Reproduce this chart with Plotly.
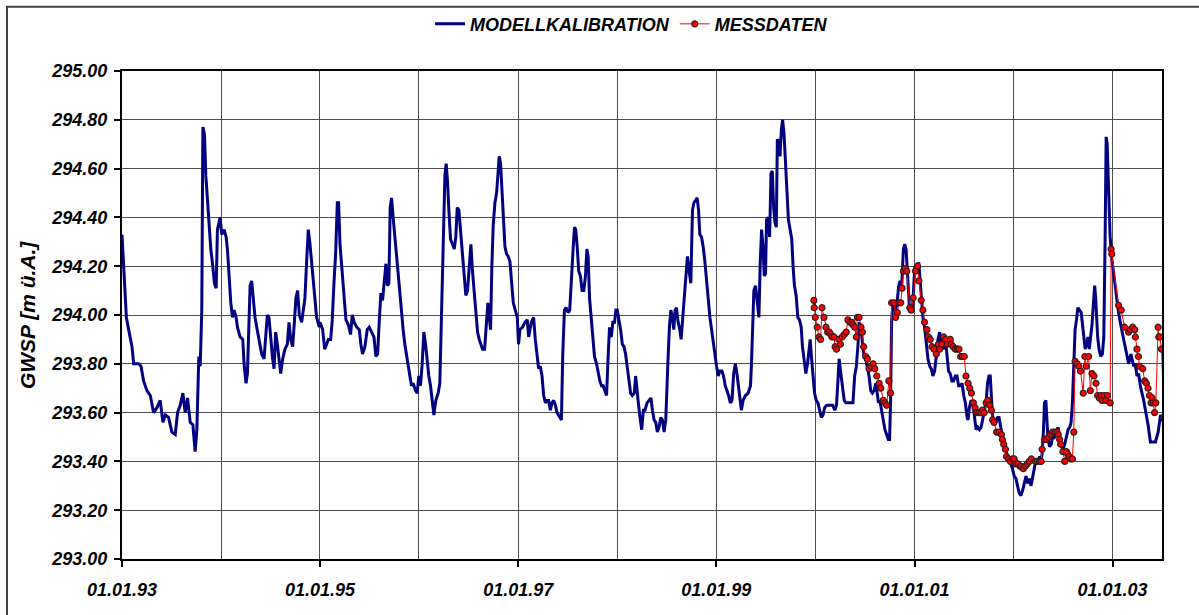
import datetime as dt
import plotly.graph_objects as go

# ---------------- data (decimal years, m ü.A.) ----------------
model_years = [
    1993.000, 1993.024, 1993.044, 1993.067, 1993.101, 1993.118, 1993.168, 1993.192, 1993.218, 1993.252,
    1993.286, 1993.319, 1993.353, 1993.386, 1993.413, 1993.437, 1993.470, 1993.504, 1993.538, 1993.561,
    1993.588, 1993.615, 1993.638, 1993.662, 1993.689, 1993.716, 1993.739, 1993.756, 1993.763, 1993.776,
    1993.790, 1993.806, 1993.817, 1993.833, 1993.847, 1993.864, 1993.880, 1993.897, 1993.917, 1993.934,
    1993.951, 1993.964, 1993.991, 1994.008, 1994.032, 1994.052, 1994.065, 1994.085, 1994.099, 1994.116,
    1994.132, 1994.153, 1994.166, 1994.193, 1994.220, 1994.233, 1994.253, 1994.267, 1994.280, 1994.294,
    1994.310, 1994.327, 1994.344, 1994.361, 1994.378, 1994.394, 1994.411, 1994.435, 1994.452, 1994.468,
    1994.485, 1994.502, 1994.519, 1994.536, 1994.552, 1994.569, 1994.586, 1994.603, 1994.623, 1994.646,
    1994.670, 1994.687, 1994.704, 1994.724, 1994.741, 1994.757, 1994.774, 1994.791, 1994.815, 1994.831,
    1994.848, 1994.865, 1994.882, 1994.899, 1994.915, 1994.932, 1994.949, 1994.966, 1994.993,
    1995.000, 1995.027, 1995.047, 1995.067, 1995.084, 1995.108, 1995.124, 1995.141, 1995.158, 1995.175,
    1995.188, 1995.202, 1995.218, 1995.235, 1995.249, 1995.262, 1995.286, 1995.309, 1995.326, 1995.346,
    1995.370, 1995.397, 1995.413, 1995.430, 1995.454, 1995.477, 1995.497, 1995.521, 1995.545, 1995.565,
    1995.582, 1995.598, 1995.615, 1995.632, 1995.649, 1995.666, 1995.682, 1995.696, 1995.709, 1995.723,
    1995.739, 1995.756, 1995.773, 1995.790, 1995.807, 1995.824, 1995.840, 1995.857, 1995.874, 1995.891,
    1995.908, 1995.924, 1995.941, 1995.965, 1995.982, 1995.998, 1996.015, 1996.032, 1996.049, 1996.066,
    1996.082, 1996.099, 1996.116, 1996.133, 1996.150, 1996.170, 1996.193, 1996.210, 1996.227, 1996.237,
    1996.250, 1996.261, 1996.274, 1996.287, 1996.301, 1996.318, 1996.338, 1996.355, 1996.371, 1996.385,
    1996.402, 1996.418, 1996.439, 1996.455, 1996.472, 1996.489, 1996.506, 1996.523, 1996.539, 1996.556,
    1996.573, 1996.590, 1996.607, 1996.624, 1996.640, 1996.661, 1996.681, 1996.694, 1996.708, 1996.721,
    1996.734, 1996.748, 1996.765, 1996.782, 1996.798, 1996.808, 1996.822, 1996.835, 1996.849, 1996.866,
    1996.882, 1996.899, 1996.916, 1996.933, 1996.950, 1996.970, 1996.990, 1997.003, 1997.017, 1997.044,
    1997.067, 1997.091,
    1997.105, 1997.132, 1997.155, 1997.172, 1997.189, 1997.206, 1997.223, 1997.240, 1997.257, 1997.274,
    1997.291, 1997.307, 1997.324, 1997.341, 1997.358, 1997.375, 1997.392, 1997.416, 1997.436, 1997.449,
    1997.466, 1997.483, 1997.503, 1997.520, 1997.537, 1997.554, 1997.568, 1997.581, 1997.595, 1997.611,
    1997.628, 1997.645, 1997.662, 1997.679, 1997.693, 1997.706, 1997.720, 1997.736, 1997.753, 1997.770,
    1997.791, 1997.807, 1997.824, 1997.841, 1997.858, 1997.875, 1997.892, 1997.909, 1997.922, 1997.939,
    1997.956, 1997.973, 1997.986, 1998.000, 1998.017, 1998.034, 1998.051, 1998.068, 1998.084, 1998.101,
    1998.118, 1998.135, 1998.152, 1998.172, 1998.186, 1998.199, 1998.213, 1998.230, 1998.247, 1998.264,
    1998.280, 1998.301, 1998.321, 1998.341, 1998.355, 1998.372, 1998.389, 1998.405, 1998.422, 1998.439,
    1998.456, 1998.473, 1998.490, 1998.500, 1998.514, 1998.527, 1998.541, 1998.557, 1998.571, 1998.584,
    1998.598, 1998.615, 1998.632, 1998.645, 1998.659, 1998.676, 1998.693, 1998.709, 1998.726, 1998.743,
    1998.760, 1998.774, 1998.791, 1998.807, 1998.821, 1998.834, 1998.851, 1998.868, 1998.885, 1998.902,
    1998.919, 1998.936, 1998.953, 1998.970, 1998.986, 1999.003, 1999.020, 1999.037, 1999.057, 1999.074,
    1999.091, 1999.108, 1999.125, 1999.142, 1999.159, 1999.176, 1999.193, 1999.209,
    1999.220, 1999.237, 1999.254, 1999.271, 1999.295, 1999.322, 1999.346, 1999.356, 1999.366, 1999.380,
    1999.397, 1999.414, 1999.431, 1999.444, 1999.458, 1999.471, 1999.485, 1999.498, 1999.508, 1999.525,
    1999.539, 1999.553, 1999.566, 1999.580, 1999.593, 1999.607, 1999.617, 1999.631, 1999.644, 1999.658,
    1999.671, 1999.685, 1999.698, 1999.712, 1999.729, 1999.746, 1999.763, 1999.776, 1999.790, 1999.807,
    1999.824, 1999.841, 1999.858, 1999.871, 1999.888, 1999.905, 1999.922, 1999.939, 1999.949, 1999.963,
    1999.976, 1999.993, 2000.010, 2000.027, 2000.044, 2000.061, 2000.078, 2000.095, 2000.115, 2000.136,
    2000.156, 2000.176, 2000.197, 2000.214, 2000.227, 2000.241, 2000.258, 2000.275, 2000.292, 2000.308,
    2000.332, 2000.356, 2000.380, 2000.397, 2000.414, 2000.431, 2000.444, 2000.458, 2000.475, 2000.492,
    2000.508, 2000.525, 2000.542, 2000.559, 2000.576, 2000.593, 2000.610, 2000.624, 2000.637, 2000.651,
    2000.668, 2000.685, 2000.702, 2000.719, 2000.736, 2000.749, 2000.759, 2000.769, 2000.783, 2000.797,
    2000.810, 2000.824, 2000.841, 2000.854, 2000.871, 2000.888, 2000.902, 2000.915, 2000.932, 2000.949,
    2000.963, 2000.976, 2000.990, 2001.003, 2001.017, 2001.031, 2001.044, 2001.058, 2001.071, 2001.085,
    2001.102, 2001.119, 2001.136, 2001.153, 2001.169, 2001.186, 2001.203, 2001.220, 2001.237, 2001.254,
    2001.271, 2001.288, 2001.305, 2001.322, 2001.339,
    2001.344, 2001.361, 2001.378, 2001.395, 2001.412, 2001.429, 2001.446, 2001.463, 2001.480, 2001.497,
    2001.514, 2001.531, 2001.541, 2001.554, 2001.571, 2001.588, 2001.605, 2001.622, 2001.639, 2001.656,
    2001.673, 2001.690, 2001.707, 2001.724, 2001.738, 2001.752, 2001.765, 2001.776, 2001.789, 2001.806,
    2001.823, 2001.840, 2001.854, 2001.871, 2001.888, 2001.905, 2001.922, 2001.939, 2001.956, 2001.973,
    2001.990, 2002.007, 2002.024, 2002.041, 2002.058, 2002.075, 2002.092, 2002.109, 2002.126, 2002.143,
    2002.160, 2002.177, 2002.194, 2002.211, 2002.228, 2002.245, 2002.262, 2002.279, 2002.289, 2002.303,
    2002.313, 2002.327, 2002.337, 2002.347, 2002.364, 2002.381, 2002.398, 2002.415, 2002.432, 2002.449,
    2002.466, 2002.483, 2002.500, 2002.517, 2002.534, 2002.551, 2002.568, 2002.582, 2002.595, 2002.609,
    2002.622, 2002.636, 2002.650, 2002.667, 2002.684, 2002.697, 2002.711, 2002.724, 2002.738, 2002.752,
    2002.765, 2002.779, 2002.793, 2002.806, 2002.820, 2002.830, 2002.840, 2002.850, 2002.864, 2002.881,
    2002.898, 2002.912, 2002.925, 2002.936, 2002.946, 2002.959, 2002.976, 2002.993, 2003.020, 2003.044,
    2003.061, 2003.088, 2003.112, 2003.146, 2003.163, 2003.186, 2003.214, 2003.231, 2003.247, 2003.264,
    2003.281, 2003.315, 2003.339, 2003.359, 2003.383, 2003.434, 2003.461, 2003.485, 2003.508, 2003.536,
]
model_values = [
    294.33, 294.13, 293.99, 293.94, 293.87, 293.80, 293.80, 293.79, 293.73, 293.69,
    293.67, 293.60, 293.62, 293.65, 293.56, 293.59, 293.58, 293.52, 293.51, 293.60,
    293.63, 293.68, 293.60, 293.66, 293.56, 293.55, 293.44, 293.53, 293.69, 293.83,
    293.79, 294.02, 294.77, 294.74, 294.57, 294.46, 294.36, 294.27, 294.20, 294.13,
    294.11, 294.35, 294.40, 294.33, 294.35, 294.32, 294.27, 294.14, 294.05, 293.99,
    294.02, 293.99, 293.95, 293.91, 293.90, 293.80, 293.72, 293.76, 293.94, 294.12,
    294.14, 294.05, 293.99, 293.95, 293.91, 293.87, 293.84, 293.82, 293.90, 294.00,
    293.99, 293.90, 293.83, 293.78, 293.93, 293.88, 293.82, 293.76, 293.82, 293.86,
    293.88, 293.97, 293.90, 293.87, 293.97, 294.07, 294.10, 294.00, 293.97, 294.03,
    294.07, 294.22, 294.35, 294.29, 294.22, 294.13, 294.05, 293.99, 293.95,
    293.97, 293.94, 293.86, 293.88, 293.90, 293.90, 293.98, 294.13, 294.25, 294.46,
    294.46, 294.29, 294.20, 294.13, 294.05, 293.98, 293.96, 293.92, 294.00, 293.97,
    293.95, 293.94, 293.88, 293.84, 293.87, 293.94, 293.95, 293.93, 293.91, 293.83,
    293.84, 293.97, 294.09, 294.06, 294.13, 294.21, 294.12, 294.13, 294.44, 294.48,
    294.40, 294.32, 294.24, 294.16, 294.10, 294.01, 293.94, 293.88, 293.83, 293.78,
    293.75, 293.71, 293.72, 293.69, 293.68, 293.75, 293.71, 293.80, 293.93, 293.88,
    293.80, 293.75, 293.71, 293.64, 293.59, 293.65, 293.68, 293.72, 293.97, 294.21,
    294.33, 294.57, 294.62, 294.55, 294.43, 294.31, 294.29, 294.27, 294.32, 294.44,
    294.43, 294.35, 294.27, 294.18, 294.08, 294.10, 294.22, 294.29, 294.18, 294.09,
    293.98, 293.93, 293.90, 293.88, 293.86, 293.86, 293.99, 294.05, 293.99, 293.94,
    294.20, 294.37, 294.46, 294.50, 294.59, 294.65, 294.62, 294.51, 294.39, 294.28,
    294.25, 294.24, 294.22, 294.13, 294.05, 294.02, 293.99, 293.88, 293.94, 293.95,
    293.97, 293.98,
    293.91, 293.97, 293.99, 293.90, 293.83, 293.78, 293.79, 293.75, 293.67, 293.64,
    293.65, 293.65, 293.61, 293.64, 293.65, 293.63, 293.60, 293.58, 293.57, 293.83,
    294.02, 294.03, 294.01, 294.02, 294.18, 294.27, 294.36, 294.35, 294.28, 294.18,
    294.16, 294.10, 294.10, 294.16, 294.27, 294.24, 294.07, 293.99, 293.94, 293.83,
    293.80, 293.76, 293.73, 293.71, 293.71, 293.69, 293.67, 293.84, 293.95, 293.91,
    293.97, 293.97, 294.02, 294.02, 293.98, 293.94, 293.88, 293.87, 293.84, 293.78,
    293.72, 293.68, 293.67, 293.68, 293.75, 293.68, 293.64, 293.58, 293.53, 293.61,
    293.61, 293.64, 293.65, 293.66, 293.61, 293.57, 293.56, 293.52, 293.54, 293.58,
    293.57, 293.52, 293.57, 293.71, 293.83, 293.95, 294.02, 293.99, 293.94, 294.02,
    294.03, 293.97, 293.94, 293.90, 293.97, 294.05, 294.17, 294.24, 294.18, 294.13,
    294.43, 294.46, 294.47, 294.48, 294.43, 294.33, 294.32, 294.28, 294.22, 294.14,
    294.06, 293.99, 293.94, 293.88, 293.83, 293.79, 293.75, 293.77, 293.77, 293.75,
    293.71, 293.69, 293.67, 293.64, 293.65, 293.76, 293.80, 293.76,
    293.72, 293.68, 293.61, 293.65, 293.67, 293.68, 293.71, 293.80, 293.98, 294.10,
    294.12, 294.05, 293.99, 294.21, 294.35, 294.29, 294.16, 294.17, 294.39, 294.40,
    294.32, 294.58, 294.59, 294.44, 294.38, 294.36, 294.72, 294.71, 294.65, 294.76,
    294.80, 294.74, 294.62, 294.51, 294.39, 294.35, 294.31, 294.20, 294.12, 294.08,
    293.99, 293.98, 293.95, 293.87, 293.82, 293.76, 293.80, 293.86, 293.90, 293.82,
    293.75, 293.68, 293.65, 293.64, 293.61, 293.58, 293.59, 293.62, 293.63, 293.63,
    293.63, 293.63, 293.61, 293.63, 293.72, 293.82, 293.76, 293.71, 293.65, 293.64,
    293.64, 293.64, 293.64, 293.75, 293.79, 293.88, 293.97, 293.95, 293.88, 293.83,
    293.82, 293.78, 293.75, 293.69, 293.68, 293.69, 293.72, 293.68, 293.64, 293.65,
    293.61, 293.56, 293.53, 293.51, 293.49, 293.49, 293.65, 293.97, 294.05, 294.03,
    294.02, 294.05, 294.12, 294.14, 294.12, 294.27, 294.29, 294.27, 294.16, 294.03,
    294.03, 294.01, 294.10, 294.20, 294.18, 294.21, 294.21, 294.14, 294.05, 293.99,
    293.95, 293.88, 293.82, 293.79, 293.78, 293.75, 293.77, 293.83, 293.90, 293.93,
    293.88, 293.86, 293.88, 293.86, 293.78,
    293.77, 293.76, 293.73, 293.73, 293.75, 293.75, 293.71, 293.71, 293.72, 293.67,
    293.64, 293.58, 293.57, 293.62, 293.65, 293.64, 293.57, 293.53, 293.54, 293.53,
    293.54, 293.57, 293.61, 293.65, 293.72, 293.75, 293.75, 293.67, 293.58, 293.57,
    293.56, 293.58, 293.58, 293.54, 293.50, 293.47, 293.45, 293.42, 293.41, 293.39,
    293.37, 293.34, 293.33, 293.30, 293.27, 293.26, 293.28, 293.31, 293.34, 293.31,
    293.33, 293.30, 293.34, 293.38, 293.41, 293.39, 293.42, 293.41, 293.43, 293.53,
    293.64, 293.65, 293.58, 293.50, 293.46, 293.47, 293.51, 293.50, 293.51, 293.54,
    293.50, 293.46, 293.45, 293.47, 293.50, 293.53, 293.54, 293.56, 293.64, 293.80,
    293.94, 293.98, 294.03, 294.02, 294.01, 293.96, 293.91, 293.86, 293.88, 293.91,
    293.86, 293.91, 293.96, 294.04, 294.12, 294.07, 293.99, 293.91, 293.86, 293.83,
    293.84, 293.91, 294.30, 294.73, 294.70, 294.53, 294.32, 294.23, 294.14, 294.06,
    294.01, 293.95, 293.90, 293.82, 293.80, 293.84, 293.79, 293.80, 293.75, 293.76,
    293.71, 293.65, 293.60, 293.55, 293.48, 293.48, 293.52, 293.59, 293.57, 293.53,
]

meas_years = [
    1999.986, 1999.990, 2000.000, 2000.020, 2000.037, 2000.054, 2000.068, 2000.088, 2000.108, 2000.125,
    2000.142, 2000.156, 2000.169, 2000.190, 2000.200, 2000.214, 2000.237, 2000.254, 2000.271, 2000.292,
    2000.312, 2000.329, 2000.349, 2000.369, 2000.380, 2000.397, 2000.414, 2000.424, 2000.441, 2000.461,
    2000.475, 2000.488, 2000.508, 2000.525, 2000.542, 2000.563, 2000.583, 2000.600, 2000.620, 2000.644,
    2000.661, 2000.685, 2000.702, 2000.719, 2000.742, 2000.759, 2000.769, 2000.793, 2000.810, 2000.827,
    2000.844, 2000.861, 2000.875, 2000.888, 2000.905, 2000.922, 2000.953, 2000.966, 2000.986, 2001.010,
    2001.031, 2001.044, 2001.068, 2001.085, 2001.102, 2001.125, 2001.142, 2001.159, 2001.176, 2001.197,
    2001.220, 2001.241, 2001.254, 2001.275, 2001.295, 2001.312, 2001.332,
    2001.361, 2001.371, 2001.391, 2001.412, 2001.432, 2001.449, 2001.466, 2001.483, 2001.503, 2001.520,
    2001.541, 2001.558, 2001.575, 2001.595, 2001.612, 2001.629, 2001.650, 2001.670, 2001.687, 2001.704,
    2001.724, 2001.741, 2001.759, 2001.776, 2001.789, 2001.803, 2001.830, 2001.854, 2001.878, 2001.888,
    2001.901, 2001.918, 2001.929, 2001.949, 2001.969, 2001.990, 2002.007, 2002.024, 2002.044, 2002.065,
    2002.078, 2002.099, 2002.119, 2002.139, 2002.160, 2002.180, 2002.221, 2002.241, 2002.262, 2002.279,
    2002.289, 2002.313, 2002.333, 2002.354, 2002.374, 2002.395, 2002.418, 2002.439, 2002.452, 2002.466,
    2002.476, 2002.500, 2002.517, 2002.534, 2002.548, 2002.561, 2002.578, 2002.595, 2002.609, 2002.622,
    2002.643, 2002.660, 2002.677, 2002.704, 2002.721, 2002.735, 2002.759, 2002.776, 2002.793, 2002.813,
    2002.833, 2002.850, 2002.867, 2002.884, 2002.895, 2002.915, 2002.932, 2002.949, 2002.976,
    2002.986, 2002.993, 2003.061, 2003.088, 2003.122, 2003.163, 2003.180, 2003.203, 2003.224, 2003.231,
    2003.247, 2003.262, 2003.272, 2003.305, 2003.325, 2003.342, 2003.359, 2003.373, 2003.390, 2003.400,
    2003.412, 2003.425, 2003.438, 2003.461, 2003.468, 2003.478, 2003.495, 2003.520,
]
meas_values = [
    294.06, 294.03, 293.99, 293.95, 293.91, 293.90, 294.03, 293.99, 293.95, 293.93,
    293.93, 293.92, 293.91, 293.91, 293.87, 293.86, 293.90, 293.88, 293.91, 293.92,
    293.93, 293.98, 293.97, 293.97, 293.96, 293.95, 293.91, 293.99, 293.99, 293.95,
    293.93, 293.87, 293.83, 293.82, 293.78, 293.79, 293.80, 293.78, 293.75, 293.72,
    293.70, 293.65, 293.64, 293.63, 293.73, 293.68, 294.05, 294.05, 293.99, 294.01,
    294.05, 294.05, 294.11, 294.18, 294.19, 294.18, 294.03, 294.02, 294.07, 294.18,
    294.20, 294.14, 294.06, 294.02, 293.97, 293.94, 293.91, 293.90, 293.87, 293.86,
    293.84, 293.88, 293.86, 293.88, 293.91, 293.90, 293.88,
    293.90, 293.88, 293.87, 293.86, 293.86, 293.86, 293.83, 293.83, 293.83, 293.75,
    293.72, 293.70, 293.68, 293.64, 293.62, 293.60, 293.60, 293.60, 293.61, 293.60,
    293.64, 293.65, 293.63, 293.61, 293.57, 293.56, 293.52, 293.52, 293.51, 293.49,
    293.47, 293.45, 293.42, 293.41, 293.40, 293.41, 293.41, 293.39, 293.39, 293.38,
    293.38, 293.37, 293.38, 293.39, 293.40, 293.41, 293.40, 293.40, 293.40, 293.40,
    293.45, 293.49, 293.49, 293.50, 293.51, 293.52, 293.52, 293.52, 293.51, 293.49,
    293.47, 293.44, 293.40, 293.44, 293.43, 293.42, 293.41, 293.41, 293.52, 293.81,
    293.80, 293.79, 293.77, 293.68, 293.83, 293.79, 293.83, 293.69, 293.76, 293.75,
    293.72, 293.67, 293.66, 293.67, 293.65, 293.67, 293.65, 293.67, 293.64,
    294.27, 294.25, 294.04, 294.02, 293.95, 293.93, 293.94, 293.95, 293.94, 293.91,
    293.86, 293.83, 293.79, 293.78, 293.73, 293.72, 293.70, 293.67, 293.64, 293.66,
    293.64, 293.60, 293.64, 293.95, 293.91, 293.91, 293.86, 293.58,
]

y_ticks = [293.0, 293.2, 293.4, 293.6, 293.8, 294.0, 294.2, 294.4, 294.6, 294.8, 295.0]
series_names = ["MODELLKALIBRATION", "MESSDATEN"]
y_title = "GWSP [m ü.A.]"


def to_date(y):
    yr = int(y)
    start = dt.datetime(yr, 1, 1)
    end = dt.datetime(yr + 1, 1, 1)
    return start + (end - start) * (y - yr)


FONT = "Liberation Sans, Arial, sans-serif"

fig = go.Figure()
fig.add_trace(go.Scatter(
    x=[to_date(v) for v in model_years], y=model_values, mode="lines",
    name=series_names[0], line=dict(color="#000080", width=3),
))
fig.add_trace(go.Scatter(
    x=[to_date(v) for v in meas_years], y=meas_values, mode="lines+markers",
    name=series_names[1], line=dict(color="#FF0000", width=1),
    marker=dict(symbol="circle", size=6, color="#FF0000", line=dict(color="#3a1a1a", width=1.2)),
))

fig.update_layout(
    width=1199, height=615,
    margin=dict(l=122, r=37, t=71, b=56, autoexpand=False),
    paper_bgcolor="white", plot_bgcolor="white",
    font=dict(family=FONT, size=18, color="black", weight="bold", style="italic"),
    showlegend=True,
    legend=dict(orientation="h", x=0.49, xanchor="center", y=1.096, yanchor="middle",
                font=dict(family=FONT, size=18, weight="bold", style="italic"),
                bgcolor="rgba(0,0,0,0)", itemwidth=30, tracegroupgap=0),
)

fig.update_xaxes(
    type="date",
    range=[dt.datetime(1993, 1, 1), to_date(2003.5)],
    tick0="1993-01-01", dtick="M24", tickformat="%d.%m.%y",
    ticks="outside", ticklen=6, tickwidth=2, tickcolor="black",
    ticklabelstandoff=7,
    tickfont=dict(family=FONT, size=18, weight="bold", style="italic"),
    showgrid=True, gridcolor="#4d4d4d", gridwidth=1,
    minor=dict(dtick="M12", tick0="1993-01-01", showgrid=True, gridcolor="#4d4d4d", gridwidth=1, ticks=""),
    showline=True, linecolor="black", linewidth=2, mirror=True,
    zeroline=False,
)
fig.update_yaxes(
    range=[293.0, 295.0], tickvals=y_ticks, tickformat=".2f",
    ticks="outside", ticklen=6, tickwidth=2, tickcolor="black",
    ticklabelstandoff=3,
    tickfont=dict(family=FONT, size=18, weight="bold", style="italic"),
    showgrid=True, gridcolor="#4d4d4d", gridwidth=1,
    showline=True, linecolor="black", linewidth=2, mirror=True,
    zeroline=False,
)

fig.add_annotation(
    text=y_title, xref="paper", yref="paper", x=-0.0913, y=0.5,
    xanchor="center", yanchor="middle", textangle=-90, showarrow=False,
    font=dict(family=FONT, size=21, weight="bold", style="italic", color="black"),
)

# outer chart frame (top and left visible)
fig.add_shape(type="rect", xref="paper", yref="paper",
              x0=-0.1106, x1=1.08, y0=-0.2, y1=1.1315,
              line=dict(color="#404040", width=2), fillcolor="rgba(0,0,0,0)", layer="below")

fig.write_html("out.html")
